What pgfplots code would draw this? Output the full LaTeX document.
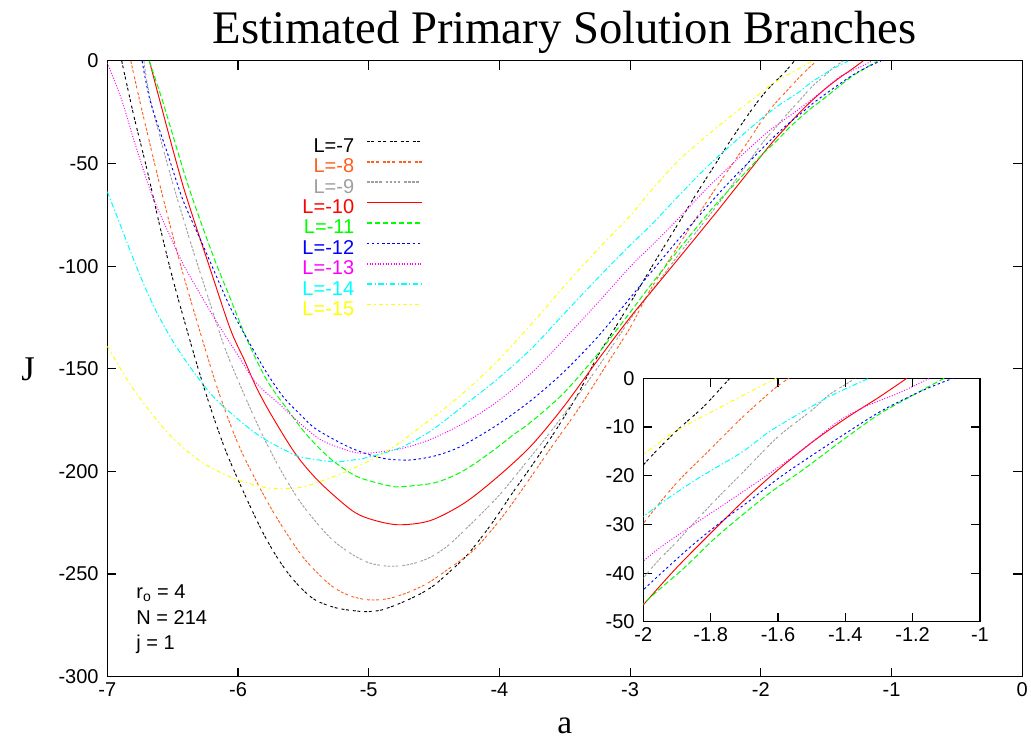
\documentclass[border=0pt]{standalone}
\usepackage{fontspec}
\setmainfont{Liberation Sans}
\newfontfamily\seriffont{Liberation Serif}
\usepackage{pgfplots}
\pgfplotsset{compat=1.18}
\usepackage{pgfplotstable}

\definecolor{cLa}{RGB}{0,0,0}
\definecolor{cLb}{RGB}{255,96,32}
\definecolor{cLc}{RGB}{160,160,160}
\definecolor{cLd}{RGB}{255,0,0}
\definecolor{cLe}{RGB}{0,255,0}
\definecolor{cLf}{RGB}{0,0,255}
\definecolor{cLg}{RGB}{255,0,255}
\definecolor{cLh}{RGB}{0,255,255}
\definecolor{cLi}{RGB}{255,255,0}

\pgfplotstableread{
a J
-6.89 0
-6.80 -26
-6.70 -52
-6.60 -80
-6.50 -106
-6.40 -129
-6.30 -151
-6.20 -171
-6.10 -189
-6.00 -204
-5.90 -218
-5.80 -231
-5.70 -242
-5.60 -251
-5.50 -258
-5.40 -263
-5.25 -266.5
-5.10 -268
-5.00 -268.3
-4.90 -267.5
-4.75 -264
-4.60 -259.5
-4.50 -255.5
-4.40 -250
-4.25 -241
-4.10 -229
-4.00 -220
-3.90 -210.5
-3.75 -197
-3.60 -183
-3.50 -173
-3.40 -162.5
-3.25 -144
-3.10 -128.5
-3.00 -118
-2.85 -102
-2.75 -91.5
-2.60 -76
-2.50 -65.5
-2.37 -52.5
-2.25 -40.5
-2.10 -26.5
-2.00 -17.8
-1.906 -11.1
-1.822 -5.9
-1.743 0
}\tLa

\pgfplotstableread{
a J
-6.82 0
-6.75 -20
-6.60 -60
-6.45 -97
-6.30 -130
-6.15 -161
-6.00 -186.5
-5.85 -206
-5.70 -223
-5.50 -242
-5.30 -255
-5.15 -260.5
-5.00 -262.6
-4.85 -262
-4.70 -259
-4.55 -254.5
-4.40 -248
-4.20 -238.5
-4.00 -224
-3.80 -206.5
-3.60 -188
-3.40 -170
-3.20 -150
-3.00 -130
-2.85 -112
-2.60 -87
-2.35 -62.5
-2.10 -39.5
-2.00 -29.8
-1.90 -21.4
-1.81 -15.2
-1.71 -8.3
-1.61 -2.1
-1.567 0
}\tLb

\pgfplotstableread{
a J
-6.72 0
-6.67 -19
-6.52 -55
-6.37 -87
-6.24 -113
-6.10 -140
-5.95 -163
-5.80 -184
-5.65 -202
-5.50 -217
-5.30 -232
-5.15 -239.5
-5.00 -244.5
-4.85 -246.2
-4.70 -245.5
-4.55 -242.5
-4.40 -236.5
-4.20 -224.5
-4.00 -211.5
-3.80 -196
-3.60 -180
-3.40 -163
-3.20 -145
-3.00 -126
-2.80 -109
-2.60 -92
-2.30 -67.5
-2.00 -41
-1.90 -33.5
-1.80 -26
-1.70 -19
-1.60 -12
-1.50 -6.6
-1.45 -3.5
-1.40 -1.3
-1.37 0
}\tLc

\pgfplotstableread{
a J
-6.678 0
-6.60 -19
-6.42 -61
-6.22 -100
-6.06 -130.5
-5.95 -146
-5.86 -159
-5.75 -172
-5.56 -191.5
-5.38 -205
-5.14 -218.5
-5.00 -223
-4.78 -226
-4.53 -224
-4.27 -215.5
-4.02 -203
-3.76 -187.7
-3.51 -168.6
-3.25 -146
-3.00 -125
-2.80 -109.5
-2.60 -94
-2.35 -74.5
-2.20 -62.5
-2.00 -46.5
-1.90 -38.8
-1.80 -31.8
-1.70 -25
-1.60 -18.8
-1.50 -13.2
-1.40 -8.3
-1.30 -3.9
-1.217 0
}\tLd

\pgfplotstableread{
a J
-6.68 0
-6.58 -19
-6.38 -61
-6.19 -95
-6.07 -114
-5.93 -136
-5.78 -155.5
-5.62 -170
-5.47 -182.5
-5.29 -194
-5.09 -202.5
-4.86 -206.8
-4.76 -207.5
-4.53 -206
-4.40 -203.5
-4.27 -199.5
-4.15 -194.5
-4.02 -188.5
-3.89 -182
-3.76 -176
-3.51 -162
-3.25 -143
-3.00 -122.5
-2.84 -109
-2.61 -90.5
-2.36 -71
-2.20 -60
-2.00 -46.3
-1.88 -39
-1.79 -33
-1.71 -28.3
-1.62 -23.3
-1.53 -19
-1.40 -12.3
-1.30 -7.4
-1.21 -3.9
-1.106 0
}\tLe

\pgfplotstableread{
a J
-6.734 0
-6.67 -20
-6.54 -45
-6.42 -68
-6.26 -91
-6.06 -120
-5.89 -140
-5.77 -153
-5.65 -164
-5.52 -172.5
-5.40 -179.5
-5.14 -188.5
-4.90 -193.5
-4.70 -194.5
-4.53 -193
-4.40 -190.6
-4.27 -187
-4.02 -177.5
-3.76 -165.5
-3.51 -151.7
-3.25 -134.6
-3.00 -115.5
-2.84 -103
-2.59 -84
-2.27 -61
-2.00 -43.4
-1.86 -34.6
-1.76 -29
-1.68 -24.9
-1.60 -20.6
-1.52 -16.8
-1.41 -11.8
-1.29 -6.6
-1.17 -2.5
-1.08 0
}\tLf

\pgfplotstableread{
a J
-7.00 -1
-6.89 -19
-6.79 -40
-6.66 -65
-6.53 -84
-6.42 -99
-6.29 -113.5
-6.17 -126.5
-6.01 -142.5
-5.86 -157
-5.66 -168.5
-5.57 -174
-5.37 -184.5
-5.14 -190.2
-5.01 -191.1
-4.76 -189
-4.53 -184.5
-4.27 -176.4
-4.02 -166.2
-3.76 -152.4
-3.51 -136
-3.25 -118
-3.00 -100.3
-2.84 -90.3
-2.61 -75.5
-2.38 -60
-2.00 -37.5
-1.88 -31.4
-1.76 -25.9
-1.645 -20.5
-1.53 -14.8
-1.42 -8.8
-1.34 -5.8
-1.24 -3.0
-1.15 0
}\tLg

\pgfplotstableread{
a J
-7.00 -63.7
-6.91 -78.4
-6.81 -95
-6.71 -110.5
-6.61 -124
-6.48 -138.5
-6.34 -151.5
-6.19 -163.5
-6.02 -173.5
-5.83 -183
-5.63 -190
-5.52 -193
-5.27 -195.3
-5.14 -194.6
-5.01 -193.2
-4.76 -188.5
-4.53 -180.5
-4.27 -167.8
-4.02 -155.3
-3.76 -140.5
-3.51 -123.5
-3.25 -106
-3.00 -89.8
-2.84 -80
-2.61 -64.5
-2.36 -48.5
-2.00 -28.4
-1.85 -21.1
-1.71 -15.3
-1.62 -10.7
-1.50 -5.8
-1.44 -3.5
-1.33 0
}\tLh

\pgfplotstableread{
a J
-7.00 -139
-6.80 -160
-6.54 -181
-6.29 -195
-6.03 -203.5
-5.78 -208
-5.65 -208.3
-5.52 -207.8
-5.37 -204.9
-5.14 -199.2
-4.86 -190.2
-4.53 -174.8
-4.27 -161.5
-4.02 -146.5
-3.76 -128.6
-3.51 -110.2
-3.25 -92
-3.00 -75.5
-2.85 -64
-2.62 -48
-2.31 -31
-2.00 -15.6
-1.91 -11.1
-1.80 -7.0
-1.684 -2.8
-1.605 0
}\tLi

\pgfplotsset{
  sLa/.style={color=cLa, line width=0.7pt, smooth, tension=0.5, dash pattern=on 2.2pt off 1.2pt on 2.2pt off 3pt},
  sLb/.style={color=cLb, line width=0.7pt, smooth, tension=0.5, dash pattern=on 2.2pt off 1.2pt on 2.2pt off 1.2pt on 2.2pt off 3pt},
  sLc/.style={color=cLc, line width=0.7pt, smooth, tension=0.5, dash pattern=on 2pt off 1pt on 2pt off 1pt on 2pt off 1pt on 2pt off 3pt},
  sLd/.style={color=cLd, line width=0.7pt, smooth, tension=0.5},
  sLe/.style={color=cLe, line width=0.75pt, smooth, tension=0.5, dash pattern=on 4pt off 2pt},
  sLf/.style={color=cLf, line width=0.7pt, smooth, tension=0.5, dash pattern=on 1.8pt off 2pt},
  sLg/.style={color=cLg, line width=0.75pt, smooth, tension=0.5, dash pattern=on 0.7pt off 1.3pt},
  sLh/.style={color=cLh, line width=0.75pt, smooth, tension=0.5, dash pattern=on 4pt off 1.8pt on 1pt off 1.8pt},
  sLi/.style={color=cLi, line width=0.75pt, smooth, tension=0.5, dash pattern=on 3pt off 2.5pt on 1pt off 2.5pt},
}

\begin{document}
\begin{tikzpicture}
\path[use as bounding box] (-80.5pt,-48.2pt) rectangle (692.8pt,507.5pt);
\begin{axis}[
  name=main,
  at={(0pt,0pt)}, anchor=south west,
  scale only axis, width=686.2pt, height=461.8pt,
  xmin=-7, xmax=0, ymin=-300, ymax=0,
  xtick={-7,-6,-5,-4,-3,-2,-1,0},
  ytick={-300,-250,-200,-150,-100,-50,0},
  tick align=inside, major tick length=6.75pt,
  axis line style={line width=0.8pt},
  every tick/.style={black, line width=0.8pt},
  tick label style={font=\fontsize{15}{18}\selectfont},
  /pgf/number format/assume math mode=true,
  xticklabel style={yshift=-1pt},
  yticklabel style={xshift=-3pt},
  legend style={at={(0.3443,0.875)}, anchor=north east, draw=none, fill=none,
    inner sep=0pt, outer sep=0pt, row sep=0pt, column sep=9pt,
    font=\fontsize{15}{18}\selectfont,
    nodes={inner sep=0pt, text height=10.8pt, text depth=4.5pt}},
  legend cell align=right, legend plot pos=right,
  legend image code/.code={\draw[#1, line width=1.1pt] (0pt,5pt) -- (41pt,5pt);},
]
\addplot[sLa] table {\tLa}; \addlegendentry{\textcolor{cLa}{L=-7}}
\addplot[sLb] table {\tLb}; \addlegendentry{\textcolor{cLb}{L=-8}}
\addplot[sLc] table {\tLc}; \addlegendentry{\textcolor{cLc}{L=-9}}
\addplot[sLd] table {\tLd}; \addlegendentry{\textcolor{cLd}{L=-10}}
\addplot[sLe] table {\tLe}; \addlegendentry{\textcolor{cLe}{L=-11}}
\addplot[sLf] table {\tLf}; \addlegendentry{\textcolor{cLf}{L=-12}}
\addplot[sLg] table {\tLg}; \addlegendentry{\textcolor{cLg}{L=-13}}
\addplot[sLh] table {\tLh}; \addlegendentry{\textcolor{cLh}{L=-14}}
\addplot[sLi] table {\tLi}; \addlegendentry{\textcolor{cLi}{L=-15}}
\end{axis}

\begin{axis}[
  name=inset,
  at={(402pt,41pt)}, anchor=south west,
  scale only axis, width=252.5pt, height=182.8pt,
  xmin=-2, xmax=-1, ymin=-50, ymax=0,
  xtick={-2,-1.8,-1.6,-1.4,-1.2,-1},
  ytick={-50,-40,-30,-20,-10,0},
  tick align=inside, major tick length=6.75pt,
  axis line style={line width=0.8pt},
  every tick/.style={black, line width=0.8pt},
  tick label style={font=\fontsize{15}{18}\selectfont},
  /pgf/number format/assume math mode=true,
  xticklabel style={yshift=-1pt},
  yticklabel style={xshift=-3pt},
  axis background/.style={fill=white},
]
\addplot[sLa] table {\tLa};
\addplot[sLb] table {\tLb};
\addplot[sLc] table {\tLc};
\addplot[sLd] table {\tLd};
\addplot[sLe] table {\tLe};
\addplot[sLf] table {\tLf};
\addplot[sLg] table {\tLg};
\addplot[sLh] table {\tLh};
\addplot[sLi] table {\tLi};
\end{axis}

\node[anchor=base, font=\seriffont\fontsize{35}{40}\selectfont] at (343.1pt,474.5pt) {Estimated Primary Solution Branches};
\node[anchor=base, inner sep=0pt, font=\seriffont\fontsize{25}{30}\selectfont] at (343.1pt,-42.5pt) {a};
\node[font=\seriffont\fontsize{26}{30}\selectfont] at (-59.5pt,230.5pt) {J};
\node[anchor=base west, font=\fontsize{15}{18}\selectfont] at (18.3pt,58.3pt) {r\textsubscript{o} = 4};
\node[anchor=base west, font=\fontsize{15}{18}\selectfont] at (18.3pt,38.8pt) {N = 214};
\node[anchor=base west, font=\fontsize{15}{18}\selectfont] at (18.3pt,20pt) {j = 1};
\end{tikzpicture}
\end{document}
